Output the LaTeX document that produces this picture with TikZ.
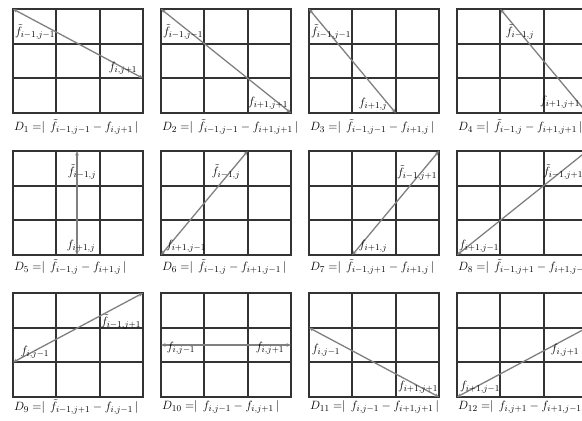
\documentclass[tikz,border=0pt]{standalone}
\usepackage{fontspec}
\setmainfont{Liberation Serif}
\usetikzlibrary{arrows.meta}
\tikzset{
  gridline/.style={draw=black!80, line width=1.8pt},
  arr/.style={draw=black!50, line width=1.3pt, {Stealth[length=4.5pt,width=3.6pt]}-{Stealth[length=4.5pt,width=3.6pt]}},
  lab/.style={inner sep=0pt, font=\fontsize{12.5}{12}\selectfont},
  captxt/.style={anchor=west, inner sep=0pt, font=\fontsize{12.5}{12}\selectfont},
  cellgrid/.pic={
    \draw[gridline] (0,0) rectangle (130,-104);
    \foreach \k in {1,2} {
      \draw[gridline] ({\k*130/3},0) -- ({\k*130/3},-104);
      \draw[gridline] (0,{-\k*104/3}) -- (130,{-\k*104/3});
    }
  }
}
\newcommand{\eqbar}{\mathrel{{=}{|}}\,}
\begin{document}
\begin{tikzpicture}[x=1pt,y=1pt]
\useasboundingbox (0,0) rectangle (582,-421);
\clip (0,0) rectangle (582,-421);
\fill[white] (0,0) rectangle (582,-421);
% grids
\foreach \X in {13,161,309,457} {
  \foreach \Y in {9,151,293} {
    \pic at (\X,-\Y) {cellgrid};
  }
}
% endpoints
\coordinate (s1) at (13,-9);       \coordinate (e1) at (143,-78.3);
\coordinate (s2) at (161,-9);      \coordinate (e2) at (291,-113);
\coordinate (s3) at (309,-9);      \coordinate (e3) at (395.7,-113);
\coordinate (s4) at (500.3,-9);    \coordinate (e4) at (587,-113);
\coordinate (s5) at (77,-151);     \coordinate (e5) at (77,-255);
\coordinate (s6) at (247.7,-151);  \coordinate (e6) at (161,-255);
\coordinate (s7) at (439,-151);    \coordinate (e7) at (352.3,-255);
\coordinate (s8) at (587,-151);    \coordinate (e8) at (457,-255);
\coordinate (s9) at (143,-293);    \coordinate (e9) at (13,-362.3);
\coordinate (s10) at (161,-345);   \coordinate (e10) at (291,-345);
\coordinate (s11) at (309,-327.7); \coordinate (e11) at (439,-397);
\coordinate (s12) at (587,-327.7); \coordinate (e12) at (457,-397);
\foreach \k in {1,...,12} { \draw[arr] (s\k) -- (e\k); }
% labels
\node[lab] (a1) at (35,-32) {$\tilde f_{i-1,j-1}$};
\node[lab] (b1) at (123,-68) {$f_{i,j+1}$};
\node[lab] (a2) at (183,-32) {$\tilde f_{i-1,j-1}$};
\node[lab] (b2) at (268,-103) {$f_{i+1,j+1}$};
\node[lab] (a3) at (331,-32) {$\tilde f_{i-1,j-1}$};
\node[lab] (b3) at (373,-104) {$f_{i+1,j}$};
\node[lab] (a4) at (520,-32) {$\tilde f_{i-1,j}$};
\node[lab] (b4) at (560,-102) {$f_{i+1,j+1}$};
\node[lab] (a5) at (82,-172) {$\tilde f_{i-1,j}$};
\node[lab] (b5) at (81,-246) {$f_{i+1,j}$};
\node[lab] (a6) at (226,-172) {$\tilde f_{i-1,j}$};
\node[lab] (b6) at (186,-246) {$f_{i+1,j-1}$};
\node[lab] (a7) at (417,-173) {$\tilde f_{i-1,j+1}$};
\node[lab] (b7) at (373,-246) {$f_{i+1,j}$};
\node[lab] (a8) at (563,-172) {$\tilde f_{i-1,j+1}$};
\node[lab] (b8) at (479,-246) {$f_{i+1,j-1}$};
\node[lab] (a9) at (121,-322) {$\tilde f_{i-1,j+1}$};
\node[lab] (b9) at (35,-352) {$f_{i,j-1}$};
\node[lab] (a10) at (181,-348) {$f_{i,j-1}$};
\node[lab] (b10) at (270,-348) {$f_{i,j+1}$};
\node[lab] (a11) at (326,-350) {$f_{i,j-1}$};
\node[lab] (b11) at (418,-387) {$f_{i+1,j+1}$};
\node[lab] (a12) at (565,-350) {$f_{i,j+1}$};
\node[lab] (b12) at (480,-387) {$f_{i+1,j-1}$};
% captions
\node[captxt] (c1) at (14,-127) {$D_1 \eqbar \tilde f_{i-1,j-1} - f_{i,j+1}\,|$};
\node[captxt] (c2) at (162,-127) {$D_2 \eqbar \tilde f_{i-1,j-1} - f_{i+1,j+1}\,|$};
\node[captxt] (c3) at (310,-127) {$D_3 \eqbar \tilde f_{i-1,j-1} - f_{i+1,j}\,|$};
\node[captxt] (c4) at (458,-127) {$D_4 \eqbar \tilde f_{i-1,j} - f_{i+1,j+1}\,|$};
\node[captxt] (c5) at (14,-267) {$D_5 \eqbar \tilde f_{i-1,j} - f_{i+1,j}\,|$};
\node[captxt] (c6) at (162,-267) {$D_6 \eqbar \tilde f_{i-1,j} - f_{i+1,j-1}\,|$};
\node[captxt] (c7) at (310,-267) {$D_7 \eqbar \tilde f_{i-1,j+1} - f_{i+1,j}\,|$};
\node[captxt] (c8) at (458,-267) {$D_8 \eqbar \tilde f_{i-1,j+1} - f_{i+1,j-1}\,|$};
\node[captxt] (c9) at (14,-407) {$D_9 \eqbar \tilde f_{i-1,j+1} - f_{i,j-1}\,|$};
\node[captxt] (c10) at (162,-407) {$D_{10} \eqbar f_{i,j-1} - f_{i,j+1}\,|$};
\node[captxt] (c11) at (310,-407) {$D_{11} \eqbar f_{i,j-1} - f_{i+1,j+1}\,|$};
\node[captxt] (c12) at (458,-407) {$D_{12} \eqbar f_{i,j+1} - f_{i+1,j-1}\,|$};
\end{tikzpicture}
\end{document}
